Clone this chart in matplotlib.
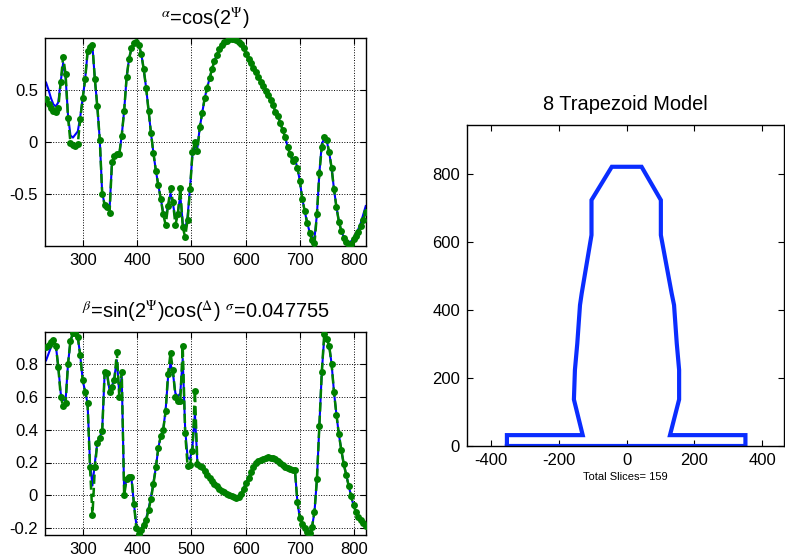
import matplotlib
matplotlib.use("Agg")
import matplotlib.pyplot as plt
from matplotlib.ticker import FuncFormatter

plt.rcParams['font.family'] = ['Liberation Sans', 'DejaVu Sans']
plt.rcParams['mathtext.fontset'] = 'stix'

# Wavelength grid (nm)
wavelength = [
    232.0, 236.5, 241.0, 245.5, 250.0, 254.5, 259.0, 263.5, 268.0, 272.5,
    277.0, 281.5, 286.0, 290.5, 295.0, 299.5, 304.0, 308.5, 313.0, 317.5,
    322.0, 326.5, 331.0, 335.5, 340.0, 344.5, 349.0, 353.5, 358.0, 362.5,
    367.0, 371.5, 376.0, 380.5, 385.0, 389.5, 394.0, 398.5, 403.0, 407.5,
    412.0, 416.5, 421.0, 425.5, 430.0, 434.5, 439.0, 443.5, 448.0, 452.5,
    457.0, 461.5, 466.0, 470.5, 475.0, 479.5, 484.0, 488.5, 493.0, 497.5,
    502.0, 506.5, 511.0, 515.5, 520.0, 524.5, 529.0, 533.5, 538.0, 542.5,
    547.0, 551.5, 556.0, 560.5, 565.0, 569.5, 574.0, 578.5, 583.0, 587.5,
    592.0, 596.5, 601.0, 605.5, 610.0, 614.5, 619.0, 623.5, 628.0, 632.5,
    637.0, 641.5, 646.0, 650.5, 655.0, 659.5, 664.0, 668.5, 673.0, 677.5,
    682.0, 686.5, 691.0, 695.5, 700.0, 704.5, 709.0, 713.5, 718.0, 722.5,
    727.0, 731.5, 736.0, 740.5, 745.0, 749.5, 754.0, 758.5, 763.0, 767.5,
    772.0, 776.5, 781.0, 785.5, 790.0, 794.5, 799.0, 803.5, 808.0, 812.5,
    817.0, 821.5,
]

# alpha = cos(2 Psi): measured
alpha_meas = [
    0.41, 0.36, 0.33, 0.30, 0.29, 0.33, 0.58, 0.82, 0.65, 0.23,
    -0.01, -0.03, -0.04, -0.02, 0.22, 0.42, 0.60, 0.87, 0.91, 0.93,
    0.60, 0.34, 0.02, -0.50, -0.61, -0.63, -0.69, -0.20, -0.14, -0.12,
    -0.12, 0.06, 0.30, 0.62, 0.80, 0.90, 0.95, 0.96, 0.93, 0.85,
    0.70, 0.52, 0.30, 0.08, -0.11, -0.28, -0.42, -0.55, -0.70, -0.80,
    -0.62, -0.45, -0.58, -0.80, -0.70, -0.45, -0.82, -0.92, -0.75, -0.46,
    -0.10, 0.00, -0.09, 0.14, 0.28, 0.42, 0.52, 0.61, 0.70, 0.78,
    0.84, 0.89, 0.93, 0.96, 0.975, 0.99, 0.995, 0.99, 0.98, 0.96,
    0.94, 0.90, 0.85, 0.80, 0.76, 0.71, 0.67, 0.62, 0.58, 0.54,
    0.49, 0.45, 0.40, 0.35, 0.29, 0.25, 0.18, 0.11, 0.045, -0.05,
    -0.12, -0.19, -0.17, -0.25, -0.38, -0.55, -0.67, -0.78, -0.88, -0.95,
    -0.98, -0.70, -0.30, -0.05, 0.05, 0.02, -0.10, -0.25, -0.46, -0.63,
    -0.77, -0.86, -0.93, -0.97, -1.00, -0.99, -0.94, -0.91, -0.87, -0.81,
    -0.75, -0.68,
]

# alpha = cos(2 Psi): model fit
alpha_fit = [
    0.57, 0.50, 0.42, 0.36, 0.34, 0.38, 0.58, 0.76, 0.62, 0.25,
    0.06, 0.04, 0.07, 0.10, 0.24, 0.42, 0.60, 0.86, 0.91, 0.92,
    0.60, 0.34, 0.02, -0.50, -0.60, -0.63, -0.66, -0.20, -0.14, -0.12,
    -0.12, 0.06, 0.30, 0.62, 0.80, 0.90, 0.95, 0.96, 0.93, 0.85,
    0.70, 0.52, 0.30, 0.08, -0.11, -0.28, -0.42, -0.55, -0.68, -0.72,
    -0.62, -0.50, -0.60, -0.74, -0.68, -0.52, -0.78, -0.85, -0.72, -0.44,
    -0.12, -0.05, -0.06, 0.14, 0.28, 0.42, 0.52, 0.61, 0.70, 0.78,
    0.84, 0.89, 0.93, 0.96, 0.975, 0.99, 0.995, 0.99, 0.98, 0.96,
    0.94, 0.90, 0.85, 0.80, 0.76, 0.71, 0.67, 0.62, 0.58, 0.54,
    0.49, 0.45, 0.40, 0.35, 0.29, 0.25, 0.18, 0.11, 0.045, -0.05,
    -0.12, -0.16, -0.17, -0.25, -0.38, -0.55, -0.67, -0.78, -0.87, -0.92,
    -0.93, -0.70, -0.30, -0.02, 0.03, 0.01, -0.10, -0.25, -0.46, -0.63,
    -0.77, -0.86, -0.92, -0.95, -0.97, -0.96, -0.93, -0.89, -0.84, -0.78,
    -0.70, -0.62,
]

# beta = sin(2 Psi) cos(Delta): measured
beta_meas = [
    0.90, 0.915, 0.93, 0.946, 0.91, 0.78, 0.60, 0.54, 0.56, 0.80,
    0.94, 0.985, 0.987, 0.96, 0.85, 0.70, 0.63, 0.56, 0.17, -0.12,
    0.17, 0.32, 0.35, 0.39, 0.75, 0.745, 0.63, 0.66, 0.70, 0.87,
    0.60, 0.75, 0.00, 0.10, 0.115, 0.11, -0.05, -0.20, -0.235, -0.21,
    -0.18, -0.15, -0.09, -0.02, 0.07, 0.17, 0.29, 0.36, 0.40, 0.51,
    0.74, 0.865, 0.76, 0.60, 0.571, 0.571, 0.905, 0.38, 0.176, 0.186,
    0.27, 0.636, 0.19, 0.18, 0.17, 0.15, 0.125, 0.105, 0.088, 0.07,
    0.058, 0.042, 0.03, 0.02, 0.01, 0.0, -0.006, -0.012, -0.016, -0.01,
    0.01, 0.04, 0.075, 0.105, 0.14, 0.17, 0.195, 0.208, 0.215, 0.222,
    0.228, 0.231, 0.23, 0.227, 0.22, 0.212, 0.20, 0.187, 0.175, 0.166,
    0.16, 0.155, 0.152, -0.04, -0.137, -0.175, -0.20, -0.22, -0.228, -0.19,
    -0.10, 0.10, 0.42, 0.75, 0.98, 0.95, 0.91, 0.80, 0.626, 0.49,
    0.37, 0.275, 0.19, 0.125, 0.06, -0.005, -0.06, -0.10, -0.13, -0.15,
    -0.168, -0.188,
]

# beta = sin(2 Psi) cos(Delta): model fit
beta_fit = [
    0.82, 0.86, 0.90, 0.93, 0.91, 0.78, 0.62, 0.58, 0.58, 0.80,
    0.94, 0.98, 0.98, 0.96, 0.85, 0.70, 0.63, 0.56, 0.20, 0.06,
    0.20, 0.32, 0.35, 0.40, 0.74, 0.73, 0.64, 0.66, 0.72, 0.82,
    0.62, 0.72, 0.02, 0.10, 0.11, 0.10, -0.05, -0.18, -0.22, -0.20,
    -0.17, -0.14, -0.08, -0.01, 0.08, 0.17, 0.29, 0.36, 0.40, 0.52,
    0.72, 0.80, 0.74, 0.62, 0.60, 0.62, 0.83, 0.40, 0.23, 0.22,
    0.30, 0.50, 0.20, 0.18, 0.17, 0.15, 0.125, 0.105, 0.088, 0.07,
    0.058, 0.042, 0.03, 0.02, 0.01, 0.0, -0.006, -0.012, -0.016, -0.008,
    0.015, 0.045, 0.08, 0.11, 0.145, 0.175, 0.198, 0.21, 0.217, 0.224,
    0.23, 0.233, 0.232, 0.228, 0.221, 0.212, 0.20, 0.187, 0.175, 0.166,
    0.16, 0.155, 0.152, -0.04, -0.137, -0.175, -0.20, -0.215, -0.22, -0.19,
    -0.10, 0.10, 0.42, 0.75, 0.96, 0.95, 0.91, 0.80, 0.626, 0.49,
    0.37, 0.275, 0.19, 0.125, 0.06, -0.005, -0.06, -0.10, -0.13, -0.15,
    -0.168, -0.188,
]

# Cross-section outline of the 8-trapezoid line profile (nm)
profile_x = [-354, -354, -130, -156, -153, -146, -138, -133, -104, -104, -44,
             44, 101, 101, 133, 140, 148, 155, 155, 128, 351, 351, -354]
profile_y = [0, 32, 32, 137, 224, 302, 415, 449, 621, 724, 822,
             822, 724, 621, 449, 415, 302, 224, 137, 32, 32, 0, 0]
total_slices = 159
sigma = 0.047755

W, H = 785, 557
fig = plt.figure(figsize=(W / 100, H / 100), dpi=100)


def box(l, t, r, b):
    return [l / W, 1 - b / H, (r - l) / W, (b - t) / H]


fmt = FuncFormatter(lambda v, p: ('%g' % v))
TICK_FS = 12
TITLE_FS = 14.4


def style(ax):
    ax.tick_params(direction='in', top=True, right=True, length=4,
                   labelsize=TICK_FS, pad=5)
    for s in ax.spines.values():
        s.set_linewidth(1.0)
        s.set_color('black')
    ax.xaxis.set_major_formatter(fmt)
    ax.yaxis.set_major_formatter(fmt)


def spectrum(ax, fit, meas, yticks, title, pad):
    ax.plot(wavelength, fit, '-', color='#0000ff', lw=1.5, zorder=2)
    ax.plot(wavelength, meas, '--', color='#008000', lw=1.8, marker='o',
            markersize=5.0, markeredgewidth=0, zorder=3)
    ax.set_xlim(230, 822)
    ax.set_ylim(min(min(fit), min(meas)) - 0.005, max(max(fit), max(meas)) + 0.005)
    ax.set_xticks([300, 400, 500, 600, 700, 800])
    ax.set_yticks(yticks)
    ax.grid(True, color='black', linestyle=':', linewidth=0.7)
    ax.set_axisbelow(True)
    style(ax)
    ax.set_title(title, fontsize=TITLE_FS, pad=pad)


ax1 = fig.add_axes(box(45, 38, 366, 246))
spectrum(ax1, alpha_fit, alpha_meas, [-0.5, 0, 0.5],
         r'${}^{\alpha}$=cos(2${}^{\Psi}$)', 9)

ax2 = fig.add_axes(box(45, 332, 366, 535))
spectrum(ax2, beta_fit, beta_meas, [-0.2, 0, 0.2, 0.4, 0.6, 0.8],
         r'${}^{\beta}$=sin(2${}^{\Psi}$)cos(${}^{\Delta}$) ${}^{\sigma}$=%g' % sigma, 10)

ax3 = fig.add_axes(box(467, 125, 784, 446))
ax3.plot(profile_x, profile_y, '-', color='#0a2dff', lw=3, solid_joinstyle='miter')
ax3.set_xlim(-472, 465)
ax3.set_ylim(0, 945)
ax3.set_xticks([-400, -200, 0, 200, 400])
ax3.set_yticks([0, 200, 400, 600, 800])
style(ax3)
ax3.set_title('8 Trapezoid Model', fontsize=TITLE_FS, pad=11)
ax3.set_xlabel('Total Slices= %d' % total_slices, fontsize=8, labelpad=3)

fig.savefig('out.png', dpi=100)
